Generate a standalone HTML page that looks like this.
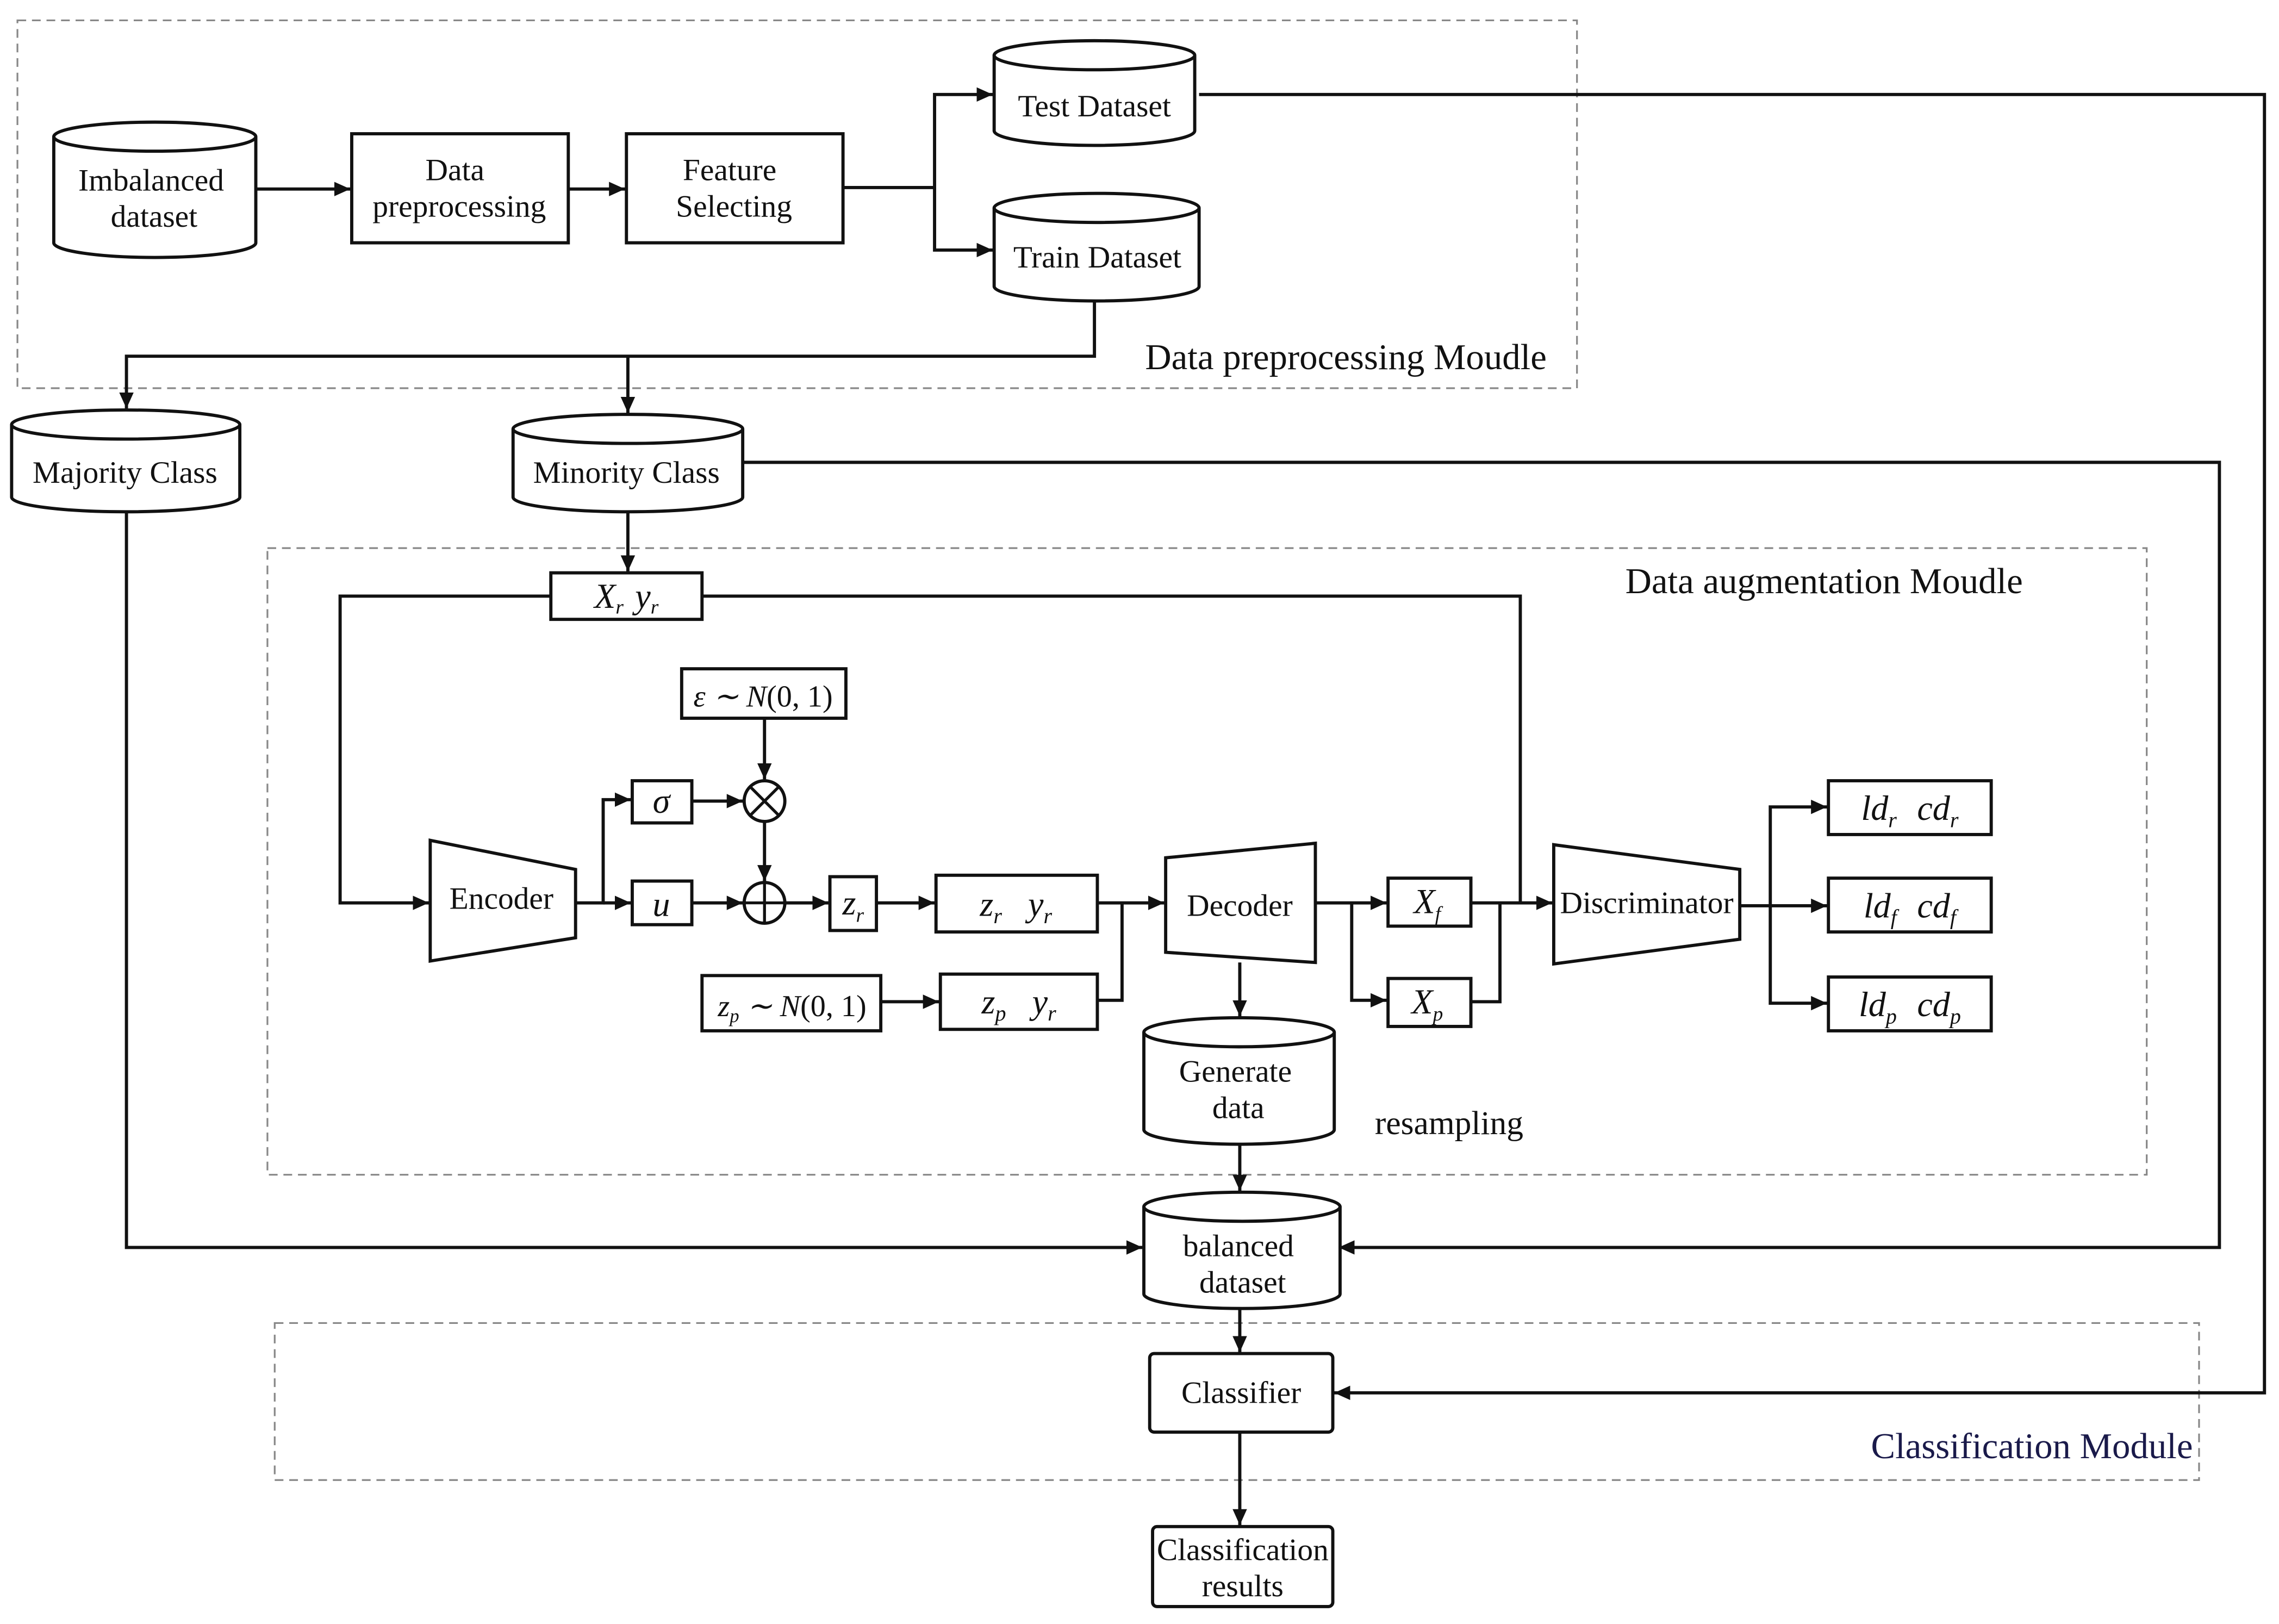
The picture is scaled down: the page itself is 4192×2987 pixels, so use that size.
<!DOCTYPE html>
<html><head><meta charset="utf-8"><style>
html,body{margin:0;padding:0;background:#fff;}
svg{display:block;}
text{font-family:"Liberation Serif",serif;fill:#111;}
.t{font-size:21.5px;text-anchor:middle;}
.m{font-size:24px;font-style:italic;text-anchor:middle;}
</style></head><body>
<svg width="4192" height="2987" viewBox="0 0 1568 1117" preserveAspectRatio="none" xmlns="http://www.w3.org/2000/svg">
<defs>
<marker id="a" viewBox="0 0 10 10" refX="10" refY="5" markerWidth="11" markerHeight="11" orient="auto" markerUnits="userSpaceOnUse"><path d="M0,0.5 L10,5 L0,9.5 z" fill="#111"/></marker>
</defs>
<g fill="none" stroke="#888" stroke-width="1.2" stroke-dasharray="6,4">
<rect x="12" y="14" width="1073" height="253"/>
<rect x="184" y="377" width="1293" height="431"/>
<rect x="189" y="910" width="1324" height="108"/>
</g>
<g fill="#fff" stroke="#111" stroke-width="2.2">
<path d="M37,94 v73 a69,10 0 0 0 139,0 v-73"/><ellipse cx="106.5" cy="94" rx="69.5" ry="10"/>
<path d="M684,38 v52 a69,10 0 0 0 138,0 v-52"/><ellipse cx="753" cy="38" rx="69" ry="10"/>
<path d="M684,143 v54 a70.5,10 0 0 0 141,0 v-54"/><ellipse cx="754.5" cy="143" rx="70.5" ry="10"/>
<path d="M8,292 v50 a78.5,10 0 0 0 157,0 v-50"/><ellipse cx="86.5" cy="292" rx="78.5" ry="10"/>
<path d="M353,295 v47 a79,10 0 0 0 158,0 v-47"/><ellipse cx="432" cy="295" rx="79" ry="10"/>
<path d="M787,710 v67 a65.5,10 0 0 0 131,0 v-67"/><ellipse cx="852.5" cy="710" rx="65.5" ry="10"/>
<path d="M787,830 v60 a67.5,10 0 0 0 135,0 v-60"/><ellipse cx="854.5" cy="830" rx="67.5" ry="10"/>
<rect x="242" y="92" width="149" height="75"/>
<rect x="431" y="92" width="149" height="75"/>
<rect x="379" y="394" width="104" height="32"/>
<rect x="469" y="460" width="113" height="34"/>
<rect x="435" y="537" width="41" height="29"/>
<rect x="435" y="606" width="41" height="30"/>
<rect x="571" y="603" width="32" height="37"/>
<rect x="644" y="602" width="111" height="39"/>
<rect x="483" y="671" width="123" height="38"/>
<rect x="647" y="670" width="108" height="38"/>
<rect x="955" y="604" width="57" height="33"/>
<rect x="955" y="673" width="57" height="33"/>
<rect x="1258" y="537" width="112" height="37"/>
<rect x="1258" y="604" width="112" height="37"/>
<rect x="1258" y="672" width="112" height="37"/>
<rect x="791" y="931" width="126" height="54" rx="3"/>
<rect x="793" y="1050" width="124" height="55" rx="3"/>
<path d="M296,578 L396,598 L396,645 L296,661 z"/>
<path d="M802,590 L905,580 L905,662 L802,655 z"/>
<path d="M1069,581 L1197,598 L1197,646 L1069,663 z"/>
<circle cx="526" cy="551" r="14"/><circle cx="526" cy="621" r="14"/>
</g>
<g stroke="#111" stroke-width="2" fill="none">
<path d="M516,541 L536,561 M536,541 L516,561"/>
<path d="M512,621 H540 M526,607 V635"/>
</g>
<g stroke="#111" stroke-width="2.2" fill="none" marker-end="url(#a)">
<path d="M176,130 H241"/>
<path d="M391,130 H430"/>
<path d="M580,129 H643 V65 H683"/>
<path d="M643,129 V172 H683"/>
<path d="M753,207 V245 H87 V281"/>
<path d="M432,245 V284"/>
<path d="M825,65 H1558 V958 H918"/>
<path d="M511,318 H1527 V858 H921"/>
<path d="M87,352 V858 H786"/>
<path d="M432,352 V393"/>
<path d="M379,410 H234 V621 H295"/>
<path d="M396,621 H415 V550 H434"/>
<path d="M415,621 H434"/>
<path d="M526,494 V536"/>
<path d="M476,551 H511"/>
<path d="M526,565 V606"/>
<path d="M476,621 H511"/>
<path d="M540,621 H570"/>
<path d="M603,621 H643"/>
<path d="M755,621 H801"/>
<path d="M606,689 H646"/>
<path d="M905,621 H954"/>
<path d="M930,621 V688 H954"/>
<path d="M1012,621 H1068"/>
<path d="M1197,623 H1257"/>
<path d="M1218,623 V555 H1257"/>
<path d="M1218,623 V690 H1257"/>
<path d="M853,662 V699"/>
<path d="M853,787 V819"/>
<path d="M853,900 V930"/>
<path d="M853,985 V1049"/>
</g>
<g stroke="#111" stroke-width="2.2" fill="none">
<path d="M483,410 H1046 V621"/>
<path d="M755,688 H772 V621"/>
<path d="M1012,689 H1032 V621"/>
</g>
<g class="t">
<text x="104" y="131">Imbalanced</text><text x="106" y="156">dataset</text>
<text x="313" y="124">Data</text><text x="316" y="149">preprocessing</text>
<text x="502" y="124">Feature</text><text x="505" y="149">Selecting</text>
<text x="753" y="80">Test Dataset</text>
<text x="755" y="184">Train Dataset</text>
<text x="86" y="332">Majority Class</text>
<text x="431" y="332">Minority Class</text>
<text x="345" y="625">Encoder</text>
<text x="853" y="630">Decoder</text>
<text x="1133" y="628">Discriminator</text>
<text x="850" y="744">Generate</text><text x="852" y="769">data</text>
<text x="852" y="864">balanced</text><text x="855" y="889">dataset</text>
<text x="854" y="965">Classifier</text>
<text x="855" y="1073">Classification</text><text x="855" y="1098">results</text>
</g>
<text x="926" y="254" style="font-size:25px;text-anchor:middle">Data preprocessing Moudle</text>
<text x="1255" y="408" style="font-size:25px;text-anchor:middle">Data augmentation Moudle</text>
<text x="997" y="780" style="font-size:23px;text-anchor:middle">resampling</text>
<text x="1398" y="1003" style="font-size:25px;text-anchor:middle;fill:#1a1a4a">Classification Module</text>
<g class="m">
<text x="431" y="418">X<tspan font-size="14" dy="4">r</tspan><tspan dy="-4" dx="8">y</tspan><tspan font-size="14" dy="4">r</tspan></text>
<text x="525" y="486" style="font-size:21px">ε ∼ <tspan>N</tspan><tspan font-style="normal">(0, 1)</tspan></text>
<text x="455" y="559">σ</text>
<text x="455" y="630">u</text>
<text x="587" y="629">z<tspan font-size="14" dy="5">r</tspan></text>
<text x="699" y="630">z<tspan font-size="15" dy="5">r</tspan><tspan dy="-5" dx="18">y</tspan><tspan font-size="15" dy="5">r</tspan></text>
<text x="545" y="699" style="font-size:21px">z<tspan font-size="13" dy="4">p</tspan><tspan dy="-4"> ∼ N</tspan><tspan font-style="normal">(0, 1)</tspan></text>
<text x="701" y="697">z<tspan font-size="15" dy="5">p</tspan><tspan dy="-5" dx="18">y</tspan><tspan font-size="15" dy="5">r</tspan></text>
<text x="982" y="628">X<tspan font-size="14" dy="5">f</tspan></text>
<text x="982" y="697">X<tspan font-size="14" dy="5">p</tspan></text>
<text x="1314" y="564">ld<tspan font-size="15" dy="5">r</tspan><tspan dy="-5" dx="14">cd</tspan><tspan font-size="15" dy="5">r</tspan></text>
<text x="1314" y="631">ld<tspan font-size="15" dy="5">f</tspan><tspan dy="-5" dx="14">cd</tspan><tspan font-size="15" dy="5">f</tspan></text>
<text x="1314" y="699">ld<tspan font-size="15" dy="5">p</tspan><tspan dy="-5" dx="14">cd</tspan><tspan font-size="15" dy="5">p</tspan></text>
</g>
</svg>
</body></html>
